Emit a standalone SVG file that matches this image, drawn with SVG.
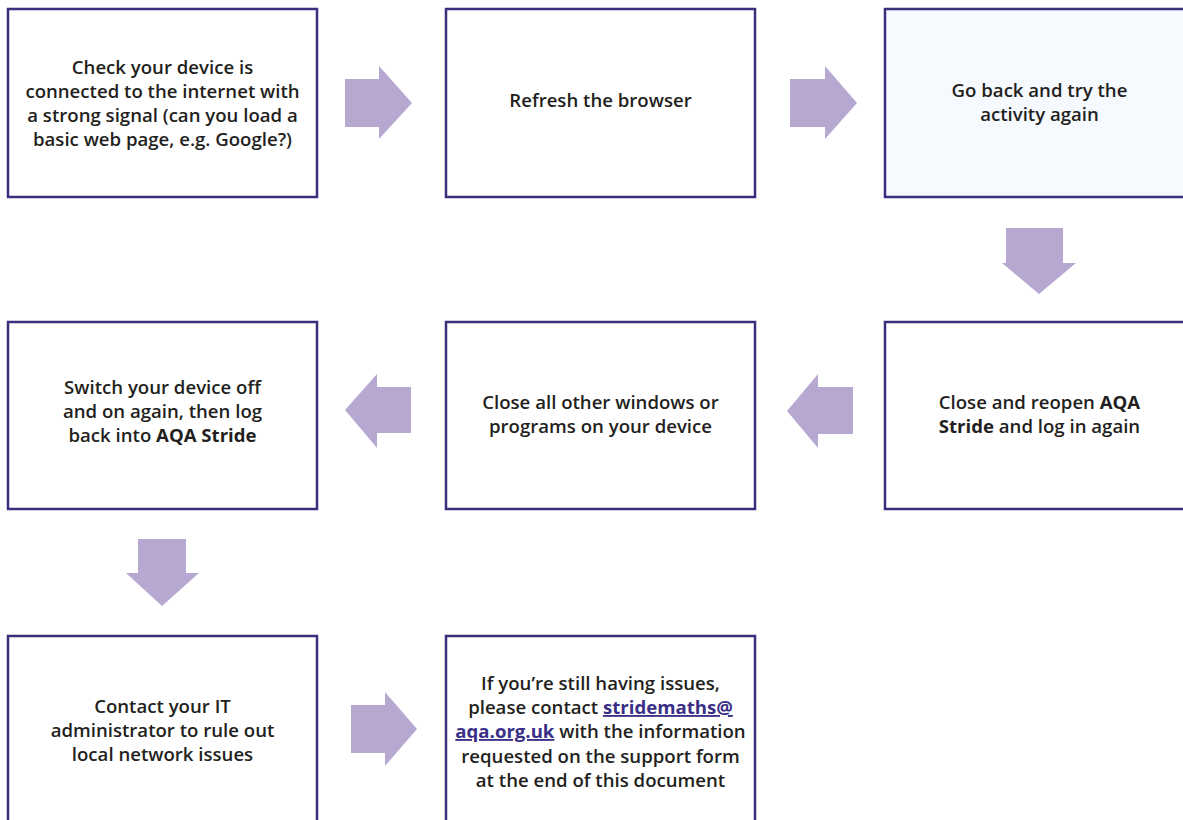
<svg xmlns="http://www.w3.org/2000/svg" width="1183" height="820" viewBox="0 0 1183 820">
<style>
.box{fill:#ffffff;stroke:#3a2f7d;stroke-width:2.5}
.box.hl{fill:#f6f9fe}
.arr{fill:#b7a8d2}
text{font-family:"Open Sans","Noto Sans","Liberation Sans",sans-serif;font-size:18.6px;font-weight:600;fill:#231f20;text-anchor:middle}
.b{font-weight:700}
.lnk{font-weight:700;fill:#3a2f86;text-decoration:underline}
</style>
<rect width="1183" height="820" fill="#ffffff"/>
<g id="connectors">
<polygon class="arr" points="345,79 379,79 379,66 412,103 379,139 379,127 345,127"/>
<polygon class="arr" points="790,79 825,79 825,66 857,103 825,139 825,127 790,127"/>
<polygon class="arr" points="1006,228 1063,228 1063,263 1076,263 1039,294 1002,263 1006,263"/>
<polygon class="arr" points="853,387 818,387 818,374 787,411 818,448 818,434 853,434"/>
<polygon class="arr" points="411,387 377,387 377,374 345,410 377,448 377,433 411,433"/>
<polygon class="arr" points="138,539 186,539 186,573 199,573 162,606 126,573 138,573"/>
<polygon class="arr" points="351,705 385,705 385,692 417,729 385,766 385,753 351,753"/>
</g>
<g id="n1">
<rect class="box" x="8" y="9" width="309" height="188"/>
<text x="162.5" y="74">Check your device is</text>
<text x="162.5" y="98">connected to the internet with</text>
<text x="162.5" y="122">a strong signal (can you load a</text>
<text x="162.5" y="146">basic web page, e.g. Google?)</text>
</g>
<g id="n2">
<rect class="box" x="446" y="9" width="309" height="188"/>
<text x="600.5" y="107">Refresh the browser</text>
</g>
<g id="n3">
<rect class="box hl" x="885" y="9" width="309" height="188"/>
<text x="1039.5" y="97">Go back and try the</text>
<text x="1039.5" y="121">activity again</text>
</g>
<g id="n4">
<rect class="box" x="885" y="322" width="309" height="187"/>
<text x="1039.5" y="409">Close and reopen <tspan class="b">AQA</tspan></text>
<text x="1039.5" y="433"><tspan class="b">Stride</tspan> and log in again</text>
</g>
<g id="n5">
<rect class="box" x="446" y="322" width="309" height="187"/>
<text x="600.5" y="409">Close all other windows or</text>
<text x="600.5" y="433">programs on your device</text>
</g>
<g id="n6">
<rect class="box" x="8" y="322" width="309" height="187"/>
<text x="162.5" y="394">Switch your device off</text>
<text x="162.5" y="418">and on again, then log</text>
<text x="162.5" y="442">back into <tspan class="b">AQA Stride</tspan></text>
</g>
<g id="n7">
<rect class="box" x="8" y="636" width="309" height="200"/>
<text x="162.5" y="713">Contact your IT</text>
<text x="162.5" y="737">administrator to rule out</text>
<text x="162.5" y="761">local network issues</text>
</g>
<g id="n8">
<rect class="box" x="446" y="636" width="309" height="200"/>
<text x="600.5" y="690">If you’re still having issues,</text>
<text x="600.5" y="714">please contact <tspan class="lnk">stridemaths@</tspan></text>
<text x="600.5" y="738"><tspan class="lnk">aqa.org.uk</tspan> with the information</text>
<text x="600.5" y="763">requested on the support form</text>
<text x="600.5" y="787">at the end of this document</text>
</g>
</svg>
